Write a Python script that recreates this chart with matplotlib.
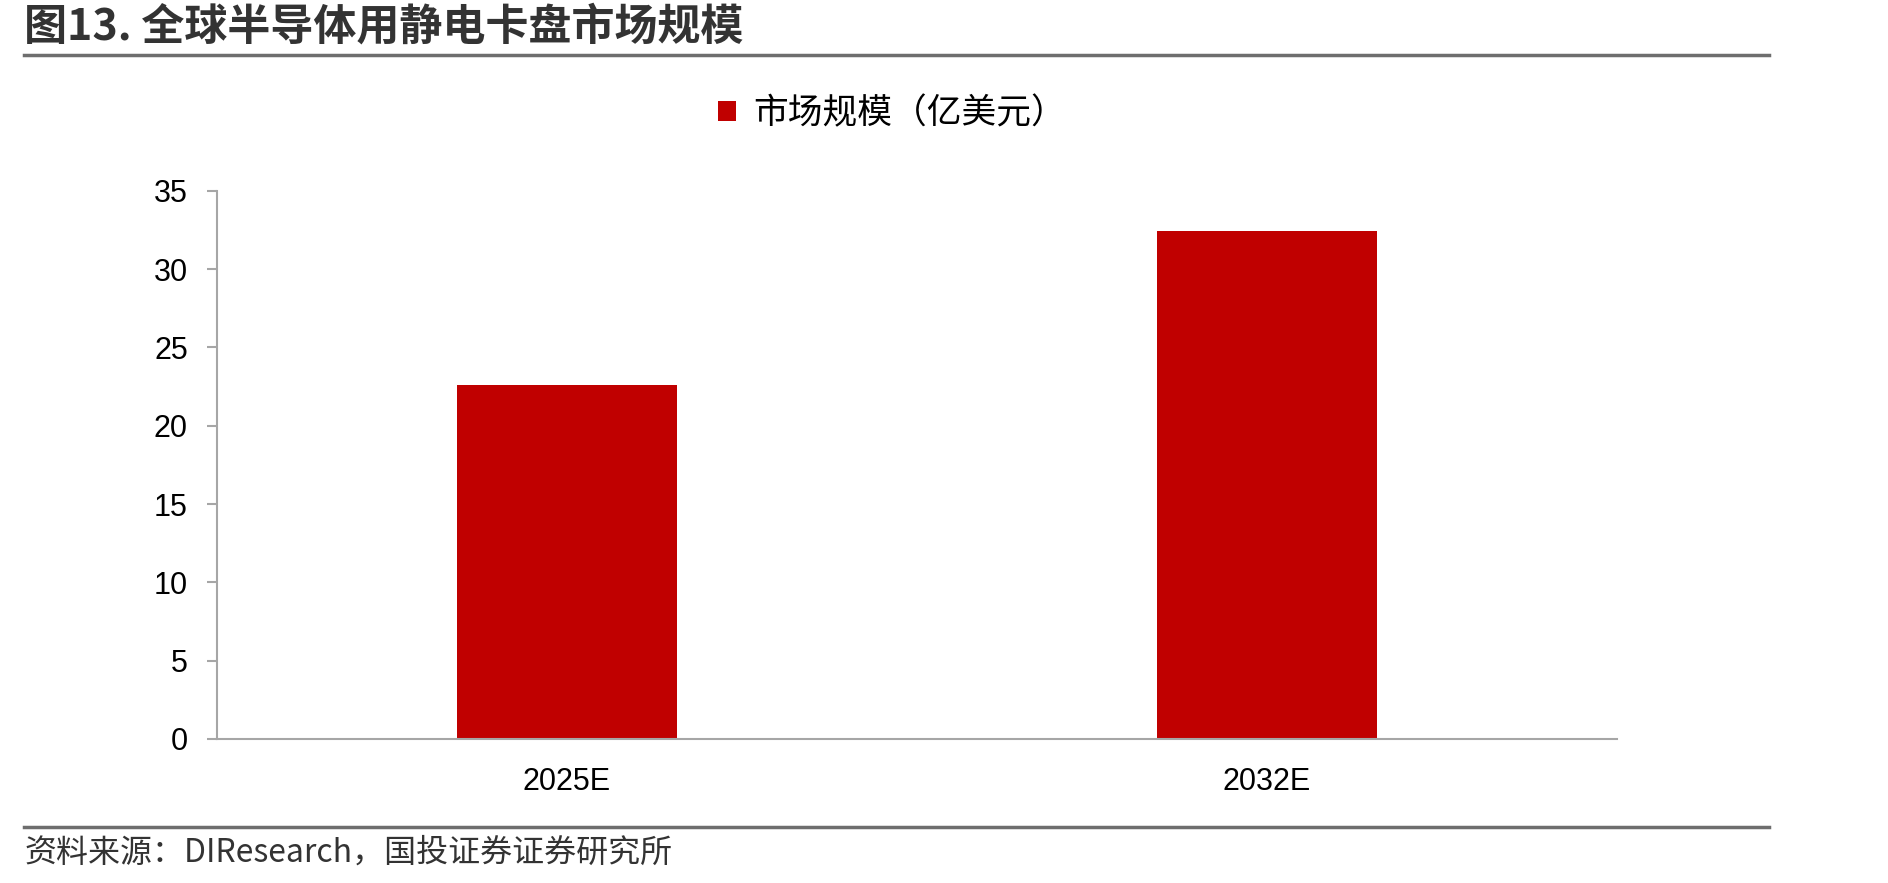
import matplotlib.pyplot as plt
from matplotlib.lines import Line2D

plt.rcParams['font.family'] = ['Liberation Sans', 'Noto Sans CJK SC', 'DejaVu Sans']

categories = ['2025E', '2032E']
market_size = [22.6, 32.4]  # 亿美元
y_ticks = [0, 5, 10, 15, 20, 25, 30, 35]

title = '图13. 全球半导体用静电卡盘市场规模'
series_name = '市场规模（亿美元）'
source = '资料来源：DIResearch，国投证券证券研究所'

BAR_COLOR = '#C00000'
AXIS_COLOR = '#A6A6A6'
RULE_COLOR = '#6E6E6E'

fig = plt.figure(figsize=(18.88, 8.83), dpi=100)
ax = fig.add_axes([0.1149, 0.1631, 0.7416, 0.6209])

x = list(range(len(categories)))
ax.bar(x, market_size, width=0.314, color=BAR_COLOR, label=series_name)

ax.set_xlim(-0.5, len(categories) - 0.5)
ax.set_ylim(0, 35)
ax.set_yticks(y_ticks)
ax.set_xticks(x)
ax.set_xticklabels(categories)

for side in ['top', 'right']:
    ax.spines[side].set_visible(False)
for side in ['left', 'bottom']:
    ax.spines[side].set_color(AXIS_COLOR)
    ax.spines[side].set_linewidth(1.5)

ax.tick_params(axis='y', length=7, width=1.5, color=AXIS_COLOR, pad=14, labelsize=22)
ax.tick_params(axis='x', length=0, pad=20, labelsize=22)

# legend above the plot
ax.legend(loc='center', bbox_to_anchor=(892 / 1888, 1 - 114 / 883),
          bbox_transform=fig.transFigure, frameon=False,
          handlelength=0.5, handleheight=0.5, handletextpad=0.5,
          prop={'family': ['Noto Sans CJK SC'], 'size': 25})

# title and rules
fig.text(24 / 1888, 1 - 27 / 883, title, fontsize=31, fontweight='bold',
         family=['Noto Sans CJK SC', 'DejaVu Sans'], color='#333333', va='center', ha='left')
fig.add_artist(Line2D([24 / 1888, 1769 / 1888], [1 - 55 / 883, 1 - 55 / 883],
                      color=RULE_COLOR, lw=2.5, transform=fig.transFigure))
fig.add_artist(Line2D([24 / 1888, 1769 / 1888], [1 - 827 / 883, 1 - 827 / 883],
                      color=RULE_COLOR, lw=2.5, transform=fig.transFigure))

fig.text(24 / 1888, 1 - 853 / 883, source, fontsize=23, style='italic',
         family=['Noto Sans CJK SC', 'DejaVu Sans'], color='#333333', va='center', ha='left')

fig.savefig('out.png', dpi=100, facecolor='white')
